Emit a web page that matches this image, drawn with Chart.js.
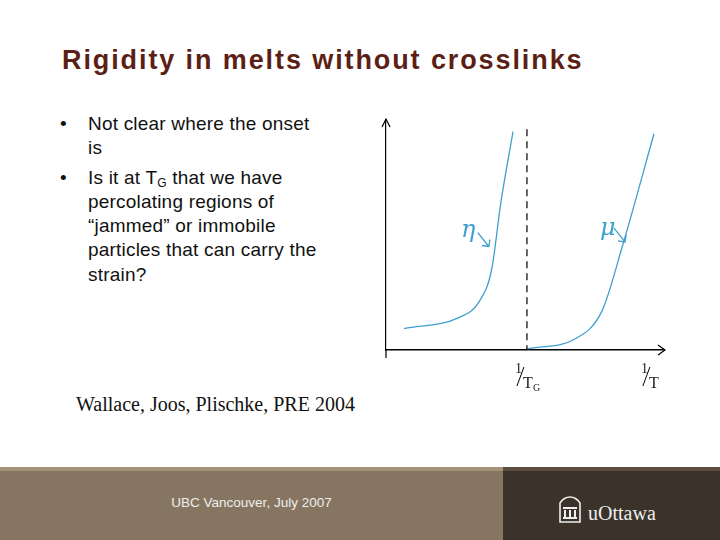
<!DOCTYPE html>
<html>
<head>
<meta charset="utf-8">
<script src="https://cdn.jsdelivr.net/npm/chart.js@4"></script>
<style>
  body { margin: 0; width: 720px; height: 540px; background: #fff; position: relative; overflow: hidden; font-family: Arial, "Liberation Sans", sans-serif; }
  .title { position: absolute; left: 62px; top: 45px; font-size: 27px; font-weight: bold; color: #5c1f16; letter-spacing: 1.9px; }
  ul { position: absolute; left: 60px; top: 112px; margin: 0; padding: 0; list-style: none; font-size: 19px; letter-spacing: 0.2px; color: #111; line-height: 24.3px; width: 268px; }
  li { padding-left: 28px; text-indent: -28px; margin-bottom: 5px; }
  li span.b { display: inline-block; width: 28px; text-indent: 0; }
  sub { font-size: 12px; vertical-align: -3px; line-height: 0; }
  .cite { position: absolute; left: 76px; top: 393px; font-family: "Liberation Serif", "DejaVu Serif", serif; font-size: 20px; color: #111; }
  .footL { position: absolute; left: 0; top: 467px; width: 503px; height: 73px; background: #867661; border-top: 4px solid #a39276; box-sizing: border-box; }
  .footR { position: absolute; left: 503px; top: 467px; width: 217px; height: 73px; background: #3b3229; border-top: 4px solid #5b4e3f; box-sizing: border-box; }
  .ubc { position: absolute; left: 0; width: 503px; top: 495px; text-align: center; color: #eee; font-size: 13.5px; }
  .uo { position: absolute; left: 588px; top: 502px; color: #eee; font-family: "Liberation Serif", serif; font-size: 20px; }
  .logo { position: absolute; left: 558px; top: 495px; }
  #wrap { position: absolute; left: 372px; top: 105px; width: 300px; height: 290px; }
</style>
</head>
<body>
<div class="title">Rigidity in melts without crosslinks</div>
<ul>
  <li><span class="b">•</span>Not clear where the onset is</li>
  <li><span class="b">•</span>Is it at T<sub>G</sub> that we have percolating regions of “jammed” or immobile particles that can carry the strain?</li>
</ul>
<div class="cite">Wallace, Joos, Plischke, PRE 2004</div>
<div id="wrap"><canvas id="chart"></canvas></div>
<div class="footL"></div>
<div class="footR"></div>
<div class="ubc">UBC Vancouver, July 2007</div>
<svg class="logo" width="24" height="28" viewBox="0 0 24 28">
  <path d="M2 27 V8 Q6 2 12 2 Q18 2 22 8 V27 Z" fill="none" stroke="#eee" stroke-width="1.6"/>
  <rect x="5" y="12" width="14" height="2" fill="#eee"/>
  <rect x="6" y="15" width="2" height="7" fill="#eee"/><rect x="11" y="15" width="2" height="7" fill="#eee"/><rect x="16" y="15" width="2" height="7" fill="#eee"/>
  <rect x="5" y="22" width="14" height="2" fill="#eee"/>
</svg>
<div class="uo">uOttawa</div>
<script>
// curves (x in units of 1/T, y arbitrary)
const etaX = [0.65, 2.6, 3.35, 3.8, 4.13, 4.57];
const etaY = [0.93, 1.4, 2.1, 3.5, 6.4, 9.5];
const muX = [5.07, 6.83, 7.77, 8.5, 9.64];
const muY = [0.05, 0.5, 1.7, 4.5, 9.4];
const tgX = 5.07;
const tickLabels = [{ x: 5.07, sub: "G" }, { x: 9.6, sub: "" }];

const curveColor = "#3f9fcf";

function pts(xs, ys) {
    return xs.map(function(x, i) { return { x: x, y: ys[i] }; });
}

const sketchPlugin = {
    id: "sketch",
    afterDraw: function(chart) {
        const ctx = chart.ctx;
        const xs = chart.scales.x, ys = chart.scales.y;
        const a = chart.chartArea;
        ctx.save();
        // axis arrows
        ctx.strokeStyle = "#000";
        ctx.lineWidth = 1.2;
        ctx.beginPath();
        ctx.moveTo(a.right - 6, a.bottom - 5); ctx.lineTo(a.right + 1, a.bottom); ctx.lineTo(a.right - 6, a.bottom + 5);
        ctx.moveTo(a.left - 4, a.top + 7); ctx.lineTo(a.left, a.top - 1); ctx.lineTo(a.left + 4, a.top + 7);
        ctx.moveTo(a.left, a.bottom); ctx.lineTo(a.left, a.bottom + 8);
        ctx.stroke();
        // dashed T_G line
        ctx.setLineDash([7, 5]);
        ctx.beginPath();
        ctx.moveTo(xs.getPixelForValue(tgX), ys.getPixelForValue(9.6));
        ctx.lineTo(xs.getPixelForValue(tgX), a.bottom);
        ctx.stroke();
        ctx.setLineDash([]);
        // tick labels 1/T_G and 1/T
        ctx.fillStyle = "#222";
        tickLabels.forEach(function(t) {
            const px = xs.getPixelForValue(t.x);
            ctx.font = "14px 'Liberation Serif', serif";
            ctx.fillText("1", px - 12, a.bottom + 23);
            ctx.beginPath();
            ctx.moveTo(px - 3, a.bottom + 17); ctx.lineTo(px - 10, a.bottom + 36);
            ctx.lineWidth = 1; ctx.stroke();
            ctx.font = "16px 'Liberation Serif', serif";
            ctx.fillText("T", px - 4, a.bottom + 38);
            if (t.sub) { ctx.font = "10px 'Liberation Serif', serif"; ctx.fillText(t.sub, px + 6, a.bottom + 41); }
        });
        // handwritten greek labels with arrows
        ctx.strokeStyle = curveColor;
        ctx.fillStyle = curveColor;
        ctx.lineWidth = 1.3;
        ctx.font = "italic 24px 'DejaVu Serif', serif";
        ctx.fillText("η", xs.getPixelForValue(2.7), ys.getPixelForValue(4.9));
        ctx.fillText("μ", xs.getPixelForValue(7.7), ys.getPixelForValue(5.0));
        [[3.3, 5.1, 3.7, 4.5], [8.2, 5.3, 8.6, 4.7]].forEach(function(r) {
            const x1 = xs.getPixelForValue(r[0]), y1 = ys.getPixelForValue(r[1]);
            const x2 = xs.getPixelForValue(r[2]), y2 = ys.getPixelForValue(r[3]);
            ctx.beginPath();
            ctx.moveTo(x1, y1); ctx.lineTo(x2, y2);
            ctx.moveTo(x2 - 7, y2 - 1); ctx.lineTo(x2, y2); ctx.lineTo(x2 + 1, y2 - 7);
            ctx.stroke();
        });
        ctx.restore();
    }
};

new Chart(document.getElementById("chart"), {
    type: "scatter",
    data: {
        datasets: [
            { data: pts(etaX, etaY), showLine: true, borderColor: curveColor, borderWidth: 1.3, pointRadius: 0, tension: 0.4, cubicInterpolationMode: "monotone" },
            { data: pts(muX, muY), showLine: true, borderColor: curveColor, borderWidth: 1.3, pointRadius: 0, tension: 0.4, cubicInterpolationMode: "monotone" }
        ]
    },
    options: {
        responsive: true,
        maintainAspectRatio: false,
        animation: false,
        layout: { padding: { left: 14, top: 15, right: 8, bottom: 45 } },
        plugins: { legend: { display: false }, tooltip: { enabled: false } },
        scales: {
            x: { min: 0, max: 10, ticks: { display: false }, grid: { display: false, drawTicks: false }, border: { color: "#000", width: 1.6 } },
            y: { min: 0, max: 10, ticks: { display: false }, grid: { display: false, drawTicks: false }, border: { color: "#000", width: 1.2 } }
        }
    },
    plugins: [sketchPlugin]
});
</script>
</body>
</html>
